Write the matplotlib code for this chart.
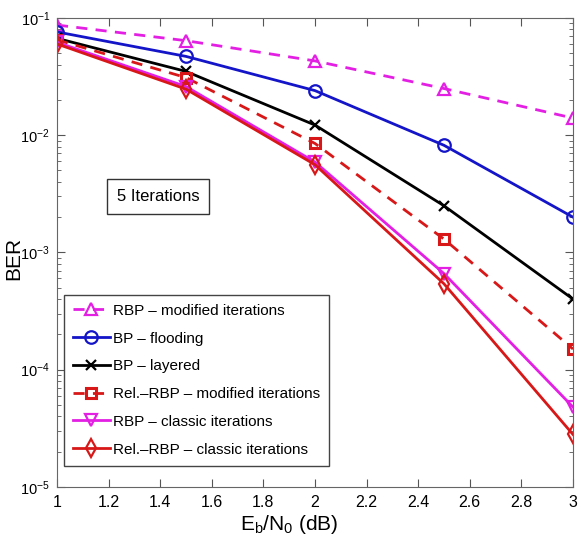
"""
BER vs Eb/N0, 5 iterations
"""
import matplotlib
matplotlib.use('Agg')
import matplotlib.pyplot as plt
import matplotlib as mpl
import numpy as np
from matplotlib.ticker import LogLocator, NullFormatter, MultipleLocator

# data
ebn0 = [1.0, 1.5, 2.0, 2.5, 3.0]
rbp_modified = [0.087, 0.064, 0.043, 0.025, 0.014]
bp_flooding = [0.076, 0.047, 0.024, 0.0082, 0.0020]
bp_layered = [0.067, 0.035, 0.0122, 0.0025, 0.00040]
relrbp_modified = [0.065, 0.031, 0.0085, 0.0013, 0.00015]
rbp_classic = [0.062, 0.026, 0.0059, 0.00066, 0.000048]
relrbp_classic = [0.060, 0.0247, 0.0056, 0.00054, 0.000028]

labels = ['RBP – modified iterations', 'BP – flooding', 'BP – layered',
          'Rel.–RBP – modified iterations', 'RBP – classic iterations',
          'Rel.–RBP – classic iterations']

MAG = '#e41fe4'
BLUE = '#1414c8'
RED = '#d81818'


def show_ber():
    mpl.rcParams['font.family'] = ['Liberation Sans', 'DejaVu Sans']
    mpl.rcParams['mathtext.default'] = 'regular'
    mpl.rcParams['font.size'] = 11

    fig = plt.figure(figsize=(5.78, 5.44), dpi=100)
    ax = fig.add_axes([0.0986, 0.105, 0.8927, 0.862])

    kw = dict(linewidth=2, markersize=9, markerfacecolor='none', markeredgewidth=1.6)
    ax.plot(ebn0, rbp_modified, '--', color=MAG, marker='^', dashes=(4, 3), label=labels[0], **kw)
    ax.plot(ebn0, bp_flooding, '-', color=BLUE, marker='o', label=labels[1], **kw)
    ax.plot(ebn0, bp_layered, '-', color='black', marker='x', label=labels[2],
            linewidth=2, markersize=7, markeredgewidth=1.6)
    ax.plot(ebn0, relrbp_modified, '--', color=RED, marker='s', dashes=(4, 3), label=labels[3],
            linewidth=2, markersize=7, markerfacecolor='none', markeredgewidth=2.2)
    ax.plot(ebn0, rbp_classic, '-', color=MAG, marker='v', label=labels[4], **kw)
    ax.plot(ebn0, relrbp_classic, '-', color=RED, marker='d', label=labels[5], **kw)

    ax.set_yscale('log')
    ax.set_xlim(1, 3)
    ax.set_ylim(1e-5, 1e-1)
    ax.xaxis.set_major_locator(MultipleLocator(0.2))
    ax.yaxis.set_major_locator(LogLocator(base=10, numticks=10))
    ax.yaxis.set_minor_locator(LogLocator(base=10, subs=np.arange(2, 10), numticks=10))
    ax.yaxis.set_minor_formatter(NullFormatter())
    ax.xaxis.set_major_formatter(plt.FuncFormatter(lambda v, p: ('%g' % round(v, 1))))
    ax.tick_params(which='both', direction='in', top=True, right=True, color='#555555')
    ax.tick_params(axis='x', labelsize=11.5, pad=6)
    ax.tick_params(axis='y', labelsize=10.5, pad=5)
    ax.tick_params(which='major', length=6)
    ax.tick_params(which='minor', length=3)
    for s in ax.spines.values():
        s.set_color('#666666')

    ax.set_ylabel('BER', fontsize=15)
    ax.yaxis.set_label_coords(-0.066, 0.488)
    ax.set_xlabel(r'E$_b$/N$_0$ (dB)', fontsize=15)
    ax.xaxis.set_label_coords(0.45, -0.055)

    ax.text(0.196, 0.62, '5 Iterations', transform=ax.transAxes, fontsize=12,
            ha='center', va='center',
            bbox=dict(boxstyle='square,pad=0.6', facecolor='white', edgecolor='#333333'))

    leg = ax.legend(loc='upper left', bbox_to_anchor=(0.013, 0.41), fontsize=11,
                    fancybox=False, edgecolor='#444444', framealpha=1,
                    handlelength=2.4, handletextpad=0.2, labelspacing=0.9,
                    borderpad=0.6, borderaxespad=0)
    leg.get_frame().set_linewidth(1.0)

    fig.savefig('out.png', dpi=100)


def run():
    show_ber()


if __name__ == '__main__':
    run()
